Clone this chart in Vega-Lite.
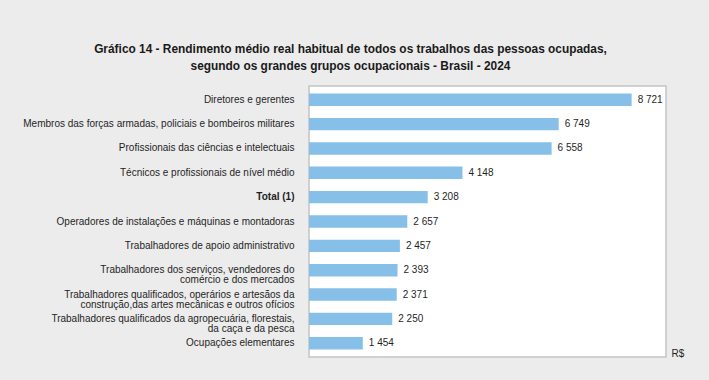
{
  "$schema": "https://vega.github.io/schema/vega-lite/v6.json",
  "width": 357,
  "height": 271,
  "autosize": {"type": "none"},
  "padding": {"left": 309, "top": 86, "right": 43, "bottom": 23},
  "background": "#ececec",
  "title": {
    "text": ["Gráfico 14 - Rendimento médio real habitual de todos os trabalhos das pessoas ocupadas,", "segundo os grandes grupos ocupacionais - Brasil - 2024"],
    "anchor": "middle",
    "frame": "group",
    "dx": -137,
    "offset": 13,
    "fontSize": 11.9,
    "fontWeight": "bold",
    "font": "Liberation Sans",
    "color": "#1a1a1a",
    "lineHeight": 17
  },
  "data": {
    "values": [
      {"grupo": "Diretores e gerentes", "valor": 8721},
      {"grupo": "Membros das forças armadas, policiais e bombeiros militares", "valor": 6749},
      {"grupo": "Profissionais das ciências e intelectuais", "valor": 6558},
      {"grupo": "Técnicos e profissionais de nível médio", "valor": 4148},
      {"grupo": "Total (1)", "valor": 3208},
      {"grupo": "Operadores de instalações e máquinas e montadoras", "valor": 2657},
      {"grupo": "Trabalhadores de apoio administrativo", "valor": 2457},
      {"grupo": "Trabalhadores dos serviços, vendedores do|comércio e dos mercados", "valor": 2393},
      {"grupo": "Trabalhadores  qualificados, operários e artesãos da|construção,das artes mecânicas e outros ofícios", "valor": 2371},
      {"grupo": "Trabalhadores qualificados da agropecuária, florestais,|da caça e da pesca", "valor": 2250},
      {"grupo": "Ocupações elementares", "valor": 1454}
    ]
  },
  "encoding": {
    "y": {
      "field": "grupo",
      "type": "nominal",
      "sort": null,
      "scale": {"paddingInner": 0.49, "paddingOuter": 0.31},
      "axis": {
        "title": null,
        "domain": false,
        "ticks": false,
        "labelPadding": 15,
        "labelLimit": 320,
        "labelFont": "Liberation Sans",
        "labelFontSize": 10,
        "labelColor": "#1f1f1f",
        "labelLineHeight": 10,
        "labelExpr": "split(datum.label, '|')",
        "labelFontWeight": {"condition": {"test": "datum.value == 'Total (1)'", "value": "bold"}, "value": "normal"}
      }
    },
    "x": {
      "field": "valor",
      "type": "quantitative",
      "scale": {"domain": [0, 9650], "nice": false},
      "axis": {
        "domain": false,
        "ticks": false,
        "labels": false,
        "grid": false,
        "title": "R$",
        "titleAngle": 0,
        "titleAlign": "left",
        "titleBaseline": "middle",
        "titleX": 362,
        "titleY": -4,
        "titleFont": "Liberation Sans",
        "titleFontSize": 10,
        "titleFontWeight": "normal",
        "titleColor": "#1f1f1f"
      }
    }
  },
  "layer": [
    {"mark": {"type": "bar", "color": "#86c0e8"}},
    {
      "mark": {"type": "text", "align": "left", "baseline": "middle", "dx": 6, "font": "Liberation Sans", "fontSize": 10, "color": "#1f1f1f"},
      "encoding": {"text": {"field": "valor", "type": "quantitative", "format": ",d"}}
    }
  ],
  "config": {
    "locale": {"number": {"decimal": ",", "thousands": " ", "grouping": [3], "currency": ["R$ ", ""]}},
    "view": {"fill": "white", "stroke": "#c4c4c4", "strokeWidth": 1.5}
  }
}
